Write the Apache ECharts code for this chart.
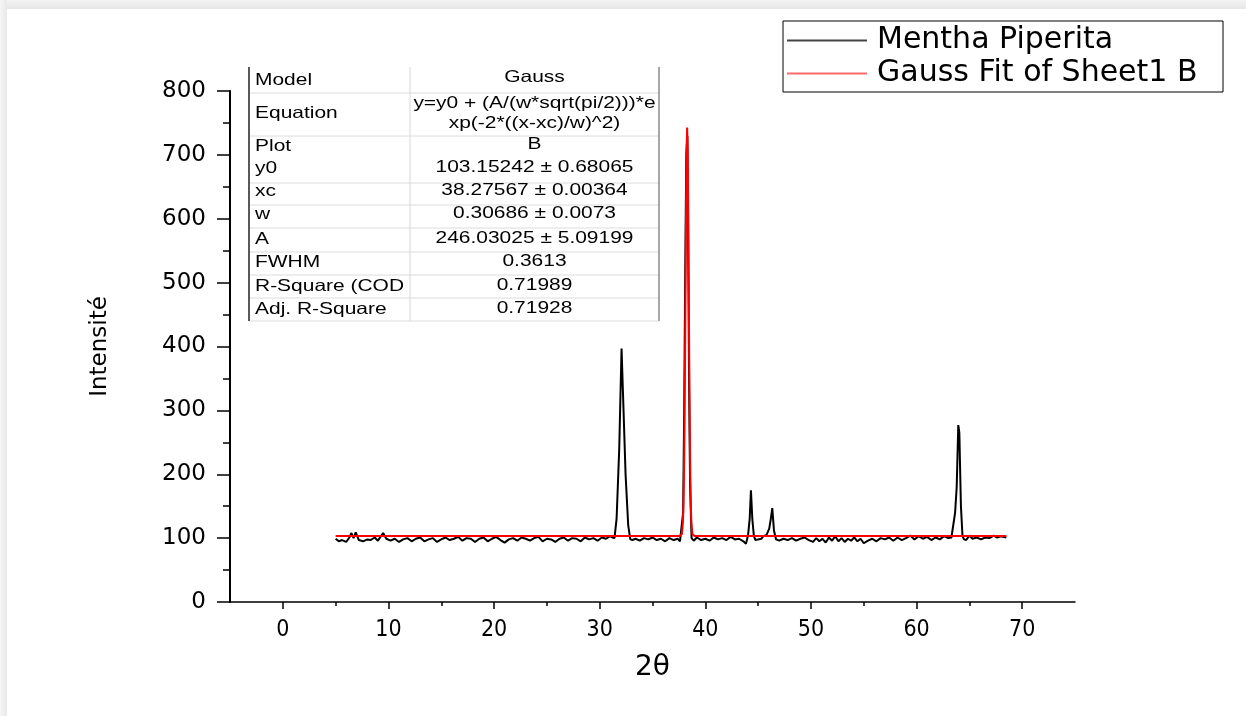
<!DOCTYPE html>
<html><head><meta charset="utf-8">
<script src="https://cdn.jsdelivr.net/npm/echarts@6/dist/echarts.min.js"></script>
<style>html,body{margin:0;padding:0;background:#fff}#c{width:1246px;height:716px}</style>
</head><body><div id="c"></div>
<script>
// ---------- data ----------
const seriesNames = ['Mentha Piperita', 'Gauss Fit of Sheet1 B'];
const xTickValues = [0, 10, 20, 30, 40, 50, 60, 70];
const xMinorTickValues = [5, 15, 25, 35, 45, 55, 65];

const menthaPiperita = [
  [5.0,99],[5.3,95],[5.6,97],[6.0,94],[6.3,101],[6.5,108],[6.7,100],[6.9,109],[7.2,97],[7.6,95],
  [8.0,98],[8.3,97],[8.7,101],[9.0,96],[9.5,108],[9.8,99],[10.2,96],[10.6,99],[11.0,94],[11.4,98],
  [11.8,100],[12.2,95],[12.6,99],[13.0,101],[13.4,95],[13.8,98],[14.2,100],[14.6,94],[15.0,98],[15.4,101],
  [15.8,97],[16.2,99],[16.6,102],[17.0,96],[17.4,100],[17.8,99],[18.2,94],[18.6,99],[19.0,101],[19.4,95],
  [19.8,99],[20.2,102],[20.6,97],[21.0,93],[21.4,98],[21.8,100],[22.2,96],[22.6,101],[23.0,99],[23.4,96],
  [23.8,100],[24.2,102],[24.6,95],[25.0,99],[25.4,98],[25.8,94],[26.2,99],[26.6,101],[27.0,96],[27.4,100],
  [27.8,99],[28.2,95],[28.6,101],[29.0,98],[29.4,100],[29.8,96],[30.2,101],[30.6,99],[31.0,103],[31.2,101],
  [31.4,100],[31.6,130],[31.85,240],[32.07,397],[32.2,330],[32.45,200],[32.7,120],[32.9,98],[33.1,97],[33.4,99],
  [33.8,96],[34.2,100],[34.6,98],[35.0,101],[35.4,97],[35.8,99],[36.2,95],[36.6,100],[37.0,97],[37.4,99],
  [37.6,95],[37.75,98],[37.9,140],[38.0,300],[38.1,520],[38.2,700],[38.3,730],[38.38,560],[38.47,330],[38.56,180],
  [38.7,100],[38.9,96],[39.2,101],[39.6,97],[40.0,99],[40.4,96],[40.8,101],[41.2,98],[41.6,100],[42.0,97],
  [42.4,102],[42.8,98],[43.2,99],[43.6,95],[43.85,91],[44.05,105],[44.2,130],[44.32,175],[44.45,130],[44.6,103],
  [44.75,97],[45.0,98],[45.3,99],[45.5,103],[45.8,105],[46.05,115],[46.2,130],[46.34,147],[46.5,112],[46.7,98],
  [47.0,96],[47.4,99],[47.8,97],[48.2,100],[48.6,96],[49.0,99],[49.4,101],[49.8,97],[50.2,94],[50.5,100],
  [50.8,95],[51.1,99],[51.4,93],[51.7,101],[52.0,96],[52.3,103],[52.6,95],[52.9,100],[53.2,94],[53.5,99],
  [53.8,96],[54.1,101],[54.4,95],[54.7,99],[55.0,92],[55.4,96],[55.8,99],[56.2,95],[56.6,100],[57.0,98],
  [57.4,101],[57.8,96],[58.2,101],[58.6,97],[59.0,100],[59.4,104],[59.8,98],[60.2,103],[60.6,99],[61.0,102],
  [61.4,97],[61.8,101],[62.2,98],[62.6,103],[63.0,100],[63.3,101],[63.45,100],[63.65,140],[63.8,180],[63.95,277],
  [64.05,265],[64.2,150],[64.35,103],[64.5,98],[64.7,97],[65.0,104],[65.3,99],[65.7,101],[66.1,98],[66.5,101],
  [66.9,100],[67.3,104],[67.6,101],[68.0,103],[68.5,101]
];

const gaussFit = [
  [5.0,103.15],[37.58,103.2],[37.68,103.5],[37.78,106.3],[37.88,124.5],[37.93,150.6],[37.98,197.8],
  [38.03,272.7],[38.08,376.7],[38.13,499.8],[38.18,620.5],[38.23,709.8],[38.28,742.9],[38.33,709.8],
  [38.38,620.5],[38.43,499.8],[38.48,376.7],[38.53,272.7],[38.58,197.8],[38.63,150.6],[38.68,124.5],
  [38.78,106.3],[38.88,103.5],[38.98,103.2],[68.5,103.15]
];

const tableLabels = ['Model','Equation','Plot','y0','xc','w','A','FWHM','R-Square (COD','Adj. R-Square'];
const tableValues = ['Gauss','y=y0 + (A/(w*sqrt(pi/2)))*e\nxp(-2*((x-xc)/w)^2)','B',
  '103.15242 ± 0.68065','38.27567 ± 0.00364','0.30686 ± 0.0073','246.03025 ± 5.09199',
  '0.3613','0.71989','0.71928'];

// ---------- layout for the fit table (pixels) ----------
const tblLeft = 249, tblRight = 659, tblDivider = 410, tblTop = 67, tblBottom = 321;
const labelRowY = [80.5,113,146,168,191,214,239,262,286,309];
const valueRowY = [77,113,144,167,190,213,238,261,285,308];
const rowSeparators = [93,136,183,205,228,252,275,298,321];
const textScaleX = 1.27;

const graphics = [];
graphics.push({type:'rect', silent:true, shape:{x:0,y:0,width:1246,height:9},
  style:{fill:new echarts.graphic.LinearGradient(0,0,0,1,[{offset:0,color:'#f3f3f3'},{offset:1,color:'#e6e6e6'}])}});
graphics.push({type:'rect', silent:true, shape:{x:0,y:0,width:7,height:716},
  style:{fill:new echarts.graphic.LinearGradient(0,0,1,0,[{offset:0,color:'#f5f5f5'},{offset:1,color:'#e9e9e9'}])}});
graphics.push({type:'rect', silent:true, shape:{x:tblLeft,y:tblTop,width:tblRight-tblLeft,height:tblBottom-tblTop}, style:{fill:'#fff'}});
rowSeparators.forEach(y => graphics.push({type:'line', silent:true,
  shape:{x1:tblLeft,y1:y,x2:tblRight,y2:y}, style:{stroke:'#dcdcdc', lineWidth:1}}));
graphics.push({type:'line', silent:true, shape:{x1:tblDivider,y1:tblTop,x2:tblDivider,y2:tblBottom}, style:{stroke:'#d6d6d6', lineWidth:1}});
graphics.push({type:'line', silent:true, shape:{x1:tblLeft,y1:tblTop,x2:tblLeft,y2:tblBottom}, style:{stroke:'#222', lineWidth:1.5}});
graphics.push({type:'line', silent:true, shape:{x1:tblRight,y1:tblTop,x2:tblRight,y2:tblBottom}, style:{stroke:'#8a8a8a', lineWidth:1.5}});
tableLabels.forEach((t, i) => graphics.push({type:'text', silent:true, x:tblLeft+6, y:labelRowY[i], scaleX:textScaleX,
  style:{text:t, font:'16.5px "Liberation Sans", Arial, sans-serif', fill:'#000', textAlign:'left', textVerticalAlign:'middle', align:'left', verticalAlign:'middle'}}));
tableValues.forEach((t, i) => graphics.push({type:'text', silent:true, x:(tblDivider+tblRight)/2, y:valueRowY[i], scaleX:textScaleX,
  style:{text:t, font:'16.5px "Liberation Sans", Arial, sans-serif', fill:'#000', lineHeight:20, textAlign:'center', textVerticalAlign:'middle', align:'center', verticalAlign:'middle'}}));

const chart = echarts.init(document.getElementById('c'), null, {renderer:'canvas'});
const axisFont = 'DejaVu Sans';
const narrowFont = '"Liberation Sans Narrow", "Arial Narrow", "DejaVu Sans Condensed", sans-serif';
chart.setOption({
  backgroundColor:'#fff',
  animation:false,
  grid:{left:230, right:171, top:91, bottom:114, containLabel:false},
  legend:{
    orient:'vertical', left:783, top:21, padding:[3,4,2,4], itemGap:0,
    itemWidth:80, itemHeight:2, icon:'rect',
    borderColor:'#000', borderWidth:1, backgroundColor:'#fff',
    textStyle:{fontFamily:axisFont, fontSize:30, color:'#000', lineHeight:33, width:342, padding:[0,0,0,5]},
    data:[{name:seriesNames[0], itemStyle:{color:'#444'}},{name:seriesNames[1], itemStyle:{color:'#ff6b6b'}}]
  },
  xAxis:[{
    type:'value', min:-5, max:75,
    name:'2θ', nameLocation:'middle', nameGap:52,
    nameTextStyle:{fontFamily:axisFont, fontSize:28, color:'#000'},
    axisLine:{show:true, onZero:false, lineStyle:{color:'#000', width:1.5}},
    axisTick:{show:true, inside:false, length:7, customValues:xTickValues, lineStyle:{color:'#000', width:1.5}},
    axisLabel:{show:true, customValues:xTickValues, margin:17, fontFamily:narrowFont, fontSize:23, color:'#000'},
    splitLine:{show:false}
  },{
    type:'value', min:-5, max:75, position:'bottom', offset:0,
    axisLine:{show:false},
    axisTick:{show:true, inside:false, length:4, customValues:xMinorTickValues, lineStyle:{color:'#000', width:1.5}},
    axisLabel:{show:false},
    splitLine:{show:false}
  }],
  yAxis:{
    type:'value', min:0, max:800, interval:100,
    name:'Intensité', nameLocation:'middle', nameGap:118, nameRotate:90,
    nameTextStyle:{fontFamily:axisFont, fontSize:23, color:'#000'},
    axisLine:{show:true, onZero:false, lineStyle:{color:'#000', width:2}},
    axisTick:{show:true, inside:false, length:13, lineStyle:{color:'#000', width:1.5}},
    minorTick:{show:true, splitNumber:2, length:7, lineStyle:{color:'#000', width:1.5}},
    axisLabel:{margin:24, fontFamily:axisFont, fontSize:23, color:'#000'},
    splitLine:{show:false}, minorSplitLine:{show:false}
  },
  series:[{
    name:seriesNames[0], type:'line', data:menthaPiperita, xAxisIndex:0, showSymbol:false, symbol:'none',
    lineStyle:{color:'#000', width:2}, itemStyle:{color:'#000'}, z:2
  },{
    name:seriesNames[1], type:'line', data:gaussFit, xAxisIndex:0, showSymbol:false, symbol:'none',
    lineStyle:{color:'#ff0000', width:2}, itemStyle:{color:'#ff0000'}, z:3
  }],
  graphic:graphics
});
</script></body></html>
